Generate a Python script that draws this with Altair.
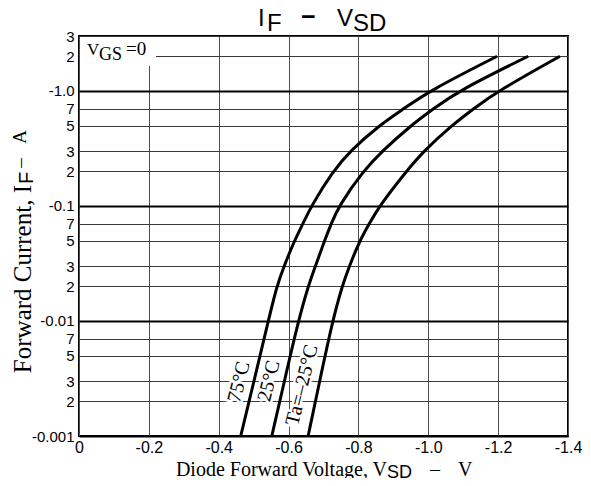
import altair as alt
import pandas as pd

# ---- data ----
current_a = [0.001, 0.003, 0.01, 0.02, 0.03, 0.05, 0.07, 0.1, 0.2, 0.3, 0.5, 0.7, 1.0, 2.0]
vsd_75 = [-0.463, -0.501, -0.542, -0.566, -0.587, -0.617, -0.641, -0.665, -0.727, -0.776, -0.859, -0.930, -1.003, -1.197]
vsd_25 = [-0.552, -0.588, -0.628, -0.656, -0.677, -0.703, -0.722, -0.744, -0.813, -0.868, -0.950, -1.015, -1.086, -1.286]
vsd_m25 = [-0.656, -0.689, -0.726, -0.753, -0.774, -0.804, -0.831, -0.860, -0.937, -0.987, -1.067, -1.130, -1.200, -1.377]
series_names = ["75°C", "25°C", "Ta=–25°C"]

x_ticks = [0, -0.2, -0.4, -0.6, -0.8, -1.0, -1.2, -1.4]
x_tick_labels = ["0", "-0.2", "-0.4", "-0.6", "-0.8", "-1.0", "-1.2", "-1.4"]
y_ticks = [0.001, 0.002, 0.003, 0.005, 0.007, 0.01, 0.02, 0.03, 0.05, 0.07,
           0.1, 0.2, 0.3, 0.5, 0.7, 1.0, 2.0, 3.0]
y_tick_labels = ["-0.001", "2", "3", "5", "7", "-0.01", "2", "3", "5", "7",
                 "-0.1", "2", "3", "5", "7", "-1.0", "2", "3"]
y_decades = [0.001, 0.01, 0.1, 1.0]

rows = []
for name, vs in zip(series_names, [vsd_75, vsd_25, vsd_m25]):
    for v, i in zip(vs, current_a):
        rows.append({"series": name, "V": v, "I": i})
df = pd.DataFrame(rows)


def js_num_list(vals):
    return "[" + ",".join(repr(float(v)) for v in vals) + "]"


def lookup_expr(vals, labels):
    lab = "[" + ",".join("'" + l + "'" for l in labels) + "]"
    return f"{lab}[indexof({js_num_list(vals)}, datum.value)]"


W, H = 489, 400
SANS = "Liberation Sans"
SERIF = "Liberation Serif"

x_enc = alt.X("V:Q", scale=alt.Scale(domain=[0, -1.4], nice=False),
              axis=alt.Axis(values=x_ticks, labelExpr=lookup_expr(x_ticks, x_tick_labels),
                            title=None, ticks=False, domain=False, grid=True,
                            gridColor="#4d4d4d", gridWidth=1,
                            labelFont=SANS, labelFontSize=16, labelColor="black",
                            labelPadding=3, labelFlush=False, labelOverlap=False))
dec_test = f"indexof({js_num_list(y_decades)}, datum.value) >= 0"
y_enc = alt.Y("I:Q", scale=alt.Scale(type="log", domain=[0.001, 3], nice=False),
              axis=alt.Axis(values=y_ticks, labelExpr=lookup_expr(y_ticks, y_tick_labels),
                            title=None, ticks=False, domain=False, grid=True,
                            gridColor={"condition": {"test": dec_test, "value": "#000000"}, "value": "#3a3a3a"},
                            gridWidth={"condition": {"test": dec_test, "value": 2}, "value": 1},
                            labelFont=SANS, labelFontSize=15, labelColor="black",
                            labelPadding=5, labelFlush=False, labelOverlap=False))

curves = alt.Chart(df).mark_line(color="black", strokeWidth=3, interpolate="basis").encode(
    x=x_enc, y=y_enc, detail="series:N")

# white box behind the V_GS=0 label
box = alt.Chart(pd.DataFrame({"a": [0]})).mark_rect(color="white").encode(
    x=alt.value(1), x2=alt.value(77), y=alt.value(1), y2=alt.value(30))


def text_layer(items, font, size, angle=0, align="left", baseline="alphabetic", halo=False, weight="normal"):
    d = pd.DataFrame(items, columns=["t", "px", "py"])
    layers = []
    if halo:
        layers.append(alt.Chart(d).mark_text(font=font, fontSize=size, angle=angle, align=align,
                                             baseline=baseline, stroke="white", strokeWidth=5,
                                             fill="white", fontWeight=weight).encode(
            x=alt.X("px:Q", scale=None), y=alt.Y("py:Q", scale=None), text="t:N"))
    layers.append(alt.Chart(d).mark_text(font=font, fontSize=size, angle=angle, align=align,
                                         baseline=baseline, color="black", fontWeight=weight).encode(
        x=alt.X("px:Q", scale=None), y=alt.Y("py:Q", scale=None), text="t:N"))
    return layers


layers = [curves, box]
# chart title  I_F − V_SD
layers += text_layer([["I", 179, -10], ["V", 258, -10]], SANS, 24)
layers += text_layer([["F", 188, -5], ["SD", 274, -5]], SANS, 24)
layers += text_layer([["−", 222, -11]], SANS, 25, weight="bold")
# V_GS=0
layers += text_layer([["V", 8, 19]], SERIF, 17)
layers += text_layer([["GS", 20, 24]], SERIF, 18)
layers += text_layer([["=0", 47, 19]], SERIF, 19)
# curve labels
layers += text_layer([[series_names[0], 160, 346], [series_names[1], 190, 345],
                      [series_names[2], 223, 349]], SERIF, 20, angle=284, align="center",
                     baseline="middle", halo=True)
# x title
layers += text_layer([["Diode Forward Voltage, V", 308, 440]], SERIF, 20, align="right")
layers += text_layer([["SD", 308, 442]], SANS, 18)
layers += text_layer([["–", 351, 440], ["V", 379, 440]], SERIF, 20)
# y title (rotated)
layers += text_layer([["Forward Current, I", -48, 149]], SERIF, 25, angle=270, align="right")
layers += text_layer([["F", -46, 148]], SANS, 20, angle=270, align="left")
layers += text_layer([["–", -53, 127], ["A", -53, 101]], SERIF, 19, angle=270, align="center")

chart = alt.layer(*layers).properties(
    width=W, height=H,
    padding={"left": 71, "top": 28, "right": 15, "bottom": 42},
    autosize=alt.AutoSizeParams(type="none"),
    background="white",
).configure_view(stroke="black", strokeWidth=2)

chart.save("out.html", embed_options={"renderer": "svg", "actions": False})
